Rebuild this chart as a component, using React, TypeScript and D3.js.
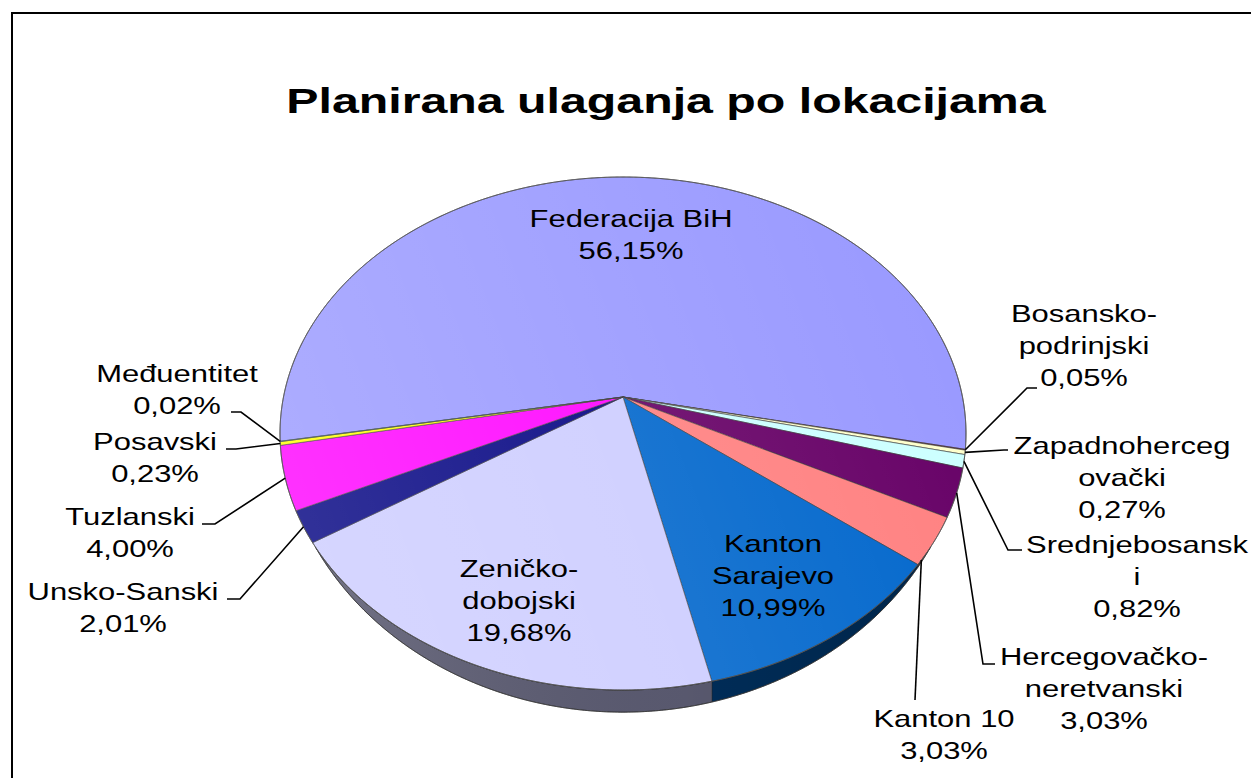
import * as d3 from "d3";

// slices in the order Excel drew them, clockwise from the left edge
const regions = [
  "Federacija BiH",
  "Bosansko-podrinjski",
  "Zapadnohercegovački",
  "Srednjebosanski",
  "Hercegovačko-neretvanski",
  "Kanton 10",
  "Kanton Sarajevo",
  "Zeničko-dobojski",
  "Unsko-Sanski",
  "Tuzlanski",
  "Posavski",
  "Međuentitet",
];
const shares = [56.15, 0.05, 0.27, 0.82, 3.03, 3.03, 10.99, 19.68, 2.01, 4.0, 0.23, 0.02];
const colors = [
  "#9999ff", "#993366", "#ffffcc", "#ccffff", "#660066", "#ff8080",
  "#0066cc", "#ccccff", "#000080", "#ff00ff", "#ffff00", "#00ffff",
];
// how the names wrap in the data labels
const nameLines = [
  ["Federacija BiH"],
  ["Bosansko-", "podrinjski"],
  ["Zapadnoherceg", "ovački"],
  ["Srednjebosansk", "i"],
  ["Hercegovačko-", "neretvanski"],
  ["Kanton 10"],
  ["Kanton", "Sarajevo"],
  ["Zeničko-", "dobojski"],
  ["Unsko-Sanski"],
  ["Tuzlanski"],
  ["Posavski"],
  ["Međuentitet"],
];

// label layout: centre x, first baseline y
const labelPos: [number, number][] = [
  [631, 227], [1084, 322], [1122, 454], [1137, 553], [1104, 665], [944, 727],
  [773, 552], [519, 577], [123, 600], [130, 525], [155, 450], [177, 382],
];
// leader start (x, y, horizontal tick, where on the slice it lands 0..1)
const leaders: ([number, number, number, number] | null)[] = [
  null, [1037, 388, -10, 0.5], [1008, 450, -4, 0.5], [1022, 550, -14, 0.5],
  [995, 664, -12, 0.5], [915, 700, 0, 0.9], null, null,
  [227, 599, 13, 0.5], [202, 524, 13, 0.5], [226, 449, 10, 0.5], [231, 412, 10, 0.5],
];

const W = 1251;
const H_PX = 778;
const cx = 623;
const cy = 397;
const A = 339.5; // horizontal radius before perspective
const B = 251.3; // vertical radius before perspective
const K = 0.1423; // perspective strength
const DEPTH = 19;
const V0 = 0.55; // side wall fades out above this depth-axis value
const startDeg = -99.9;
const font = "'Liberation Sans', Arial, sans-serif";
const sx = 1.29;
const lineStep = 32;

function project(a: number, w = 0): [number, number] {
  const u = Math.sin(a);
  const v = -Math.cos(a);
  const d = 1 - K * v;
  const drop = w * DEPTH * Math.max(0, (v - V0) / (1 - V0));
  return [cx + (A * u) / d, cy + (B * v + drop) / d];
}

function arcPts(a0: number, a1: number, w = 0): [number, number][] {
  const n = Math.max(2, Math.ceil(Math.abs(a1 - a0) / 0.004));
  return d3.range(n + 1).map((i) => project(a0 + ((a1 - a0) * i) / n, w));
}

const line = d3.line<[number, number]>();
const fmtPct = (v: number) => d3.format(".2f")(v).replace(".", ",") + "%";

export default function App() {
  const start = (startDeg * Math.PI) / 180;
  const arcs = d3
    .pie<number>()
    .sort(null)
    .startAngle(start)
    .endAngle(start + 2 * Math.PI)(shares);

  const thR = Math.acos(-V0);
  const thL = 2 * Math.PI - thR;

  const walls: { d: string; fill: string }[] = [];
  arcs.forEach((a, i) => {
    for (const off of [-2 * Math.PI, 0, 2 * Math.PI]) {
      const lo = Math.max(a.startAngle, thR + off);
      const hi = Math.min(a.endAngle, thL + off);
      if (hi > lo) {
        const pts = [...arcPts(lo, hi, 0), ...arcPts(hi, lo, 1)];
        walls.push({
          d: line(pts) + "Z",
          fill: d3.color(colors[i])!.darker(2.2).formatHex(),
        });
      }
    }
  });
  const wallBand = line([...arcPts(thR, thL, 0), ...arcPts(thL, thR, 1)]) + "Z";

  const tops = arcs.map((a, i) => ({
    d: line([[cx, cy], ...arcPts(a.startAngle, a.endAngle, 0)]) + "Z",
    fill: colors[i],
  }));
  const topOutline = line(arcPts(0, 2 * Math.PI, 0)) + "Z";

  return (
    <svg
      width={W}
      height={H_PX}
      style={{ position: "absolute", left: 0, top: 0, background: "#fff" }}
    >
      <defs>
        <linearGradient id="topShade" gradientUnits="userSpaceOnUse" x1={280} y1={560} x2={970} y2={300}>
          <stop offset="0" stopColor="#fff" stopOpacity={0.2} />
          <stop offset="1" stopColor="#fff" stopOpacity={0} />
        </linearGradient>
        <linearGradient id="wallShade" gradientUnits="userSpaceOnUse" x1={300} y1={0} x2={930} y2={0}>
          <stop offset="0" stopColor="#fff" stopOpacity={0.15} />
          <stop offset="0.6" stopColor="#000" stopOpacity={0.05} />
          <stop offset="1" stopColor="#000" stopOpacity={0.2} />
        </linearGradient>
      </defs>

      <rect x={12} y={13} width={W} height={H_PX} fill="none" stroke="#000" strokeWidth={2} />

      <text
        transform={`translate(666,113) scale(1.38,1)`}
        textAnchor="middle"
        fontFamily={font}
        fontWeight="bold"
        fontSize={35}
        fill="#000"
      >
        Planirana ulaganja po lokacijama
      </text>

      {walls.map((w, i) => (
        <path key={"w" + i} d={w.d} fill={w.fill} stroke="#2a2a2a" strokeWidth={0.5} />
      ))}
      <path d={wallBand} fill="url(#wallShade)" stroke="#333" strokeWidth={0.8} />

      {tops.map((t, i) => (
        <path key={"t" + i} d={t.d} fill={t.fill} stroke="#333" strokeWidth={0.6} strokeLinejoin="round" />
      ))}
      <path d={topOutline} fill="url(#topShade)" stroke="#555" strokeWidth={0.9} />

      {arcs.map((a, i) => {
        const ld = leaders[i];
        if (!ld) return null;
        const [lx, ly, tick, frac] = ld;
        const p = project(a.startAngle + (a.endAngle - a.startAngle) * frac, 0);
        const pts: [number, number][] = tick
          ? [[lx, ly], [lx + tick, ly], p]
          : [[lx, ly], p];
        return (
          <path key={"l" + i} d={line(pts)!} fill="none" stroke="#000" strokeWidth={1.6} />
        );
      })}

      {regions.map((r, i) => {
        const lines = [...nameLines[i], fmtPct(shares[i])];
        const [x, y] = labelPos[i];
        return (
          <g key={r}>
            {lines.map((s, j) => (
              <text
                key={j}
                transform={`translate(${x},${y + j * lineStep}) scale(${sx},1)`}
                textAnchor="middle"
                fontFamily={font}
                fontSize={24}
                fill="#000"
              >
                {s}
              </text>
            ))}
          </g>
        );
      })}
    </svg>
  );
}
